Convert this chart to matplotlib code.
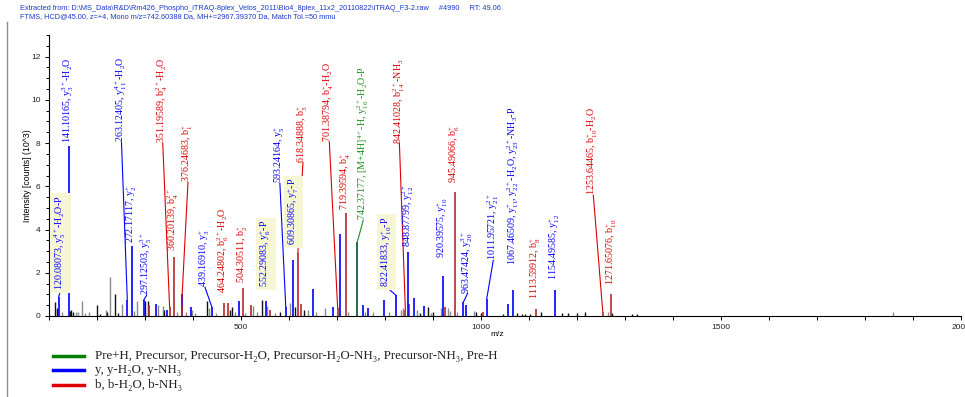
import matplotlib
matplotlib.use("Agg")
import matplotlib.pyplot as plt
from matplotlib.lines import Line2D
from matplotlib.ticker import MultipleLocator

plt.rcParams["mathtext.fontset"] = "custom"
plt.rcParams["mathtext.rm"] = "Liberation Serif"
plt.rcParams["mathtext.it"] = "Liberation Serif"
plt.rcParams["mathtext.default"] = "regular"

# --- matched y ions (blue) ---
y_mz = [120.08073, 141.10165, 263.12405, 272.17117, 297.12503, 439.16910, 552.29083,
        593.24164, 609.30865, 822.41833, 848.87799, 920.39575, 963.47424, 1011.95721,
        1067.46509, 1154.49585]
y_int = [0.88, 7.86, 0.75, 3.25, 0.73, 0.42, 0.68, 0.42, 2.58, 0.96, 2.95, 1.84, 0.65,
         0.80, 1.22, 1.19]
y_labels = [
    "120.08073, y$_5^{4+}$-H$_2$O-P",
    "141.10165, y$_3^{3+}$-H$_2$O",
    "263.12405, y$_{11}^{4+}$-H$_2$O",
    "272.17117, y$_2^{+}$",
    "297.12503, y$_5^{3+}$",
    "439.16910, y$_3^{+}$",
    "552.29083, y$_6^{+}$-P",
    "593.24164, y$_5^{+}$",
    "609.30865, y$_7^{+}$-P",
    "822.41833, y$_{10}^{+}$-P",
    "848.87799, y$_{12}^{2+}$",
    "920.39575, y$_{10}^{+}$",
    "963.47424, y$_{20}^{3+}$",
    "1011.95721, y$_{21}^{2+}$",
    "1067.46509, y$_{11}^{+}$, y$_{22}^{2+}$-H$_2$O, y$_{23}^{2+}$-NH$_3$-P",
    "1154.49585, y$_{12}^{+}$",
]

# --- matched b ions (red) ---
b_mz = [351.19589, 360.20139, 376.24683, 464.24802, 504.30511, 618.34888, 701.38794,
        719.39594, 842.41028, 945.49066, 1113.59912, 1253.64465, 1271.65076]
b_int = [0.42, 2.75, 0.50, 0.60, 1.31, 2.90, 0.35, 4.78, 0.30, 5.74, 0.31, 0.20, 1.00]
b_labels = [
    "351.19589, b$_4^{2+}$-H$_2$O",
    "360.20139, b$_4^{2+}$",
    "376.24683, b$_1^{+}$",
    "464.24802, b$_6^{2+}$-H$_2$O",
    "504.30511, b$_2^{+}$",
    "618.34888, b$_3^{+}$",
    "701.38794, b$_4^{+}$-H$_2$O",
    "719.39594, b$_4^{+}$",
    "842.41028, b$_{14}^{2+}$-NH$_3$",
    "945.49066, b$_6^{+}$",
    "1113.59912, b$_8^{+}$",
    "1253.64465, b$_{10}^{+}$-H$_2$O",
    "1271.65076, b$_{10}^{+}$",
]

# --- precursor (green) ---
pre_mz = [742.37177]
pre_int = [3.43]
pre_labels = ["742.37177, [M+4H]$^{4+}$-H, y$_{16}^{2+}$-H$_2$O-P"]

# ions with a neutral loss of phosphate get a highlighted label
highlighted = [120.08073, 552.29083, 609.30865, 822.41833]

# unlabeled peaks that still matched a series
y_extra_mz = [323, 346, 377.7, 395, 496, 649, 691, 706, 754.7, 764, 798.5, 861, 882, 968.5, 1055.5]
y_extra_int = [0.57, 0.30, 1.00, 0.40, 0.68, 1.27, 0.40, 3.80, 0.50, 0.35, 0.76, 0.85, 0.45, 0.50, 0.57]
b_extra_mz = [308, 472, 520, 560, 626, 850.5, 926, 1004.6]
b_extra_int = [0.50, 0.60, 0.50, 0.30, 0.55, 0.55, 0.40, 0.20]

# unmatched peaks
black_mz = [112.5, 116, 143, 146, 150, 199, 206, 221.5, 237.5, 243, 300, 305.6, 340, 428.5,
            477, 481, 543, 581, 612.5, 631, 873, 890, 900, 990, 1001, 1046, 1076, 1085,
            1092, 1102, 1124, 1168, 1182, 1199, 1216.5, 1273, 1315, 1326]
black_int = [0.65, 0.35, 0.25, 0.30, 0.20, 0.53, 0.10, 0.20, 1.04, 0.15, 0.70, 0.68, 0.30, 0.68,
             0.30, 0.40, 0.74, 0.20, 0.40, 0.30, 0.15, 0.40, 0.20, 0.20, 0.15, 0.10, 0.15, 0.10,
             0.10, 0.10, 0.18, 0.15, 0.15, 0.15, 0.18, 0.15, 0.10, 0.10]
gray_mz = [127.7, 156, 161, 168, 175, 184, 218, 227, 252.7, 277.7, 282.7, 328, 337, 367, 386,
           397, 404, 434, 448, 487.5, 508, 525.5, 532.6, 555, 570, 602, 640, 656, 675, 723.5,
           758, 775.7, 808, 833, 838, 866, 896, 916.7, 931, 936, 950, 985, 1265, 1858]
gray_int = [0.18, 0.20, 0.20, 0.68, 0.15, 0.20, 0.30, 1.80, 0.55, 0.25, 0.68, 0.50, 0.45, 0.20,
            0.20, 0.30, 0.15, 0.35, 0.15, 0.20, 0.15, 0.45, 0.20, 0.45, 0.15, 0.60, 0.30, 0.20,
            0.35, 0.20, 0.20, 0.20, 0.20, 0.30, 0.35, 0.30, 0.15, 0.35, 0.35, 0.25, 0.20, 0.25,
            0.20, 0.18]

# where each label sits (m/z, intensity of its lower end)
label_pos = {
    120.08073: (124, 1.20), 141.10165: (141.1, 8.0), 263.12405: (251, 8.04),
    272.17117: (272.2, 3.37), 297.12503: (303.5, 0.96), 439.16910: (425, 1.33),
    552.29083: (552.3, 1.33), 593.24164: (581, 6.13), 609.30865: (609.3, 3.27),
    822.41833: (803.5, 1.34), 848.87799: (848.9, 3.2), 920.39575: (920.4, 2.67),
    963.47424: (972, 1.04), 1011.95721: (1025.6, 2.58), 1067.46509: (1067.5, 2.35),
    1154.49585: (1154.5, 1.65),
    351.19589: (337, 7.99), 360.20139: (360.2, 3.0), 376.24683: (389.5, 6.18),
    464.24802: (464.2, 1.05), 504.30511: (504.3, 1.51), 618.34888: (629, 7.1),
    701.38794: (684, 8.06), 719.39594: (719.4, 4.89), 842.41028: (830, 7.98),
    945.49066: (945.5, 6.13), 1113.59912: (1113.6, 0.8), 1253.64465: (1234, 5.59),
    1271.65076: (1271.7, 1.42),
    742.37177: (754.7, 4.43),
}

BLUE = "#0000ff"
RED = "#dd0000"
DARKRED = "#b22a2a"
GREEN = "#1f8a1f"

fig = plt.figure(figsize=(9.65, 3.97), dpi=100)
ax = fig.add_axes([49 / 965, 1 - 316 / 397, 912 / 965, 281 / 397])

# --- peaks ---
ax.vlines(gray_mz, 0, gray_int, colors="#8a8a8a", lw=1.0)
ax.vlines(black_mz, 0, black_int, colors="#111111", lw=1.0)
ax.vlines(y_extra_mz, 0, y_extra_int, colors=BLUE, lw=1.2)
ax.vlines(b_extra_mz, 0, b_extra_int, colors=DARKRED, lw=1.2)
ax.vlines(y_mz, 0, y_int, colors=BLUE, lw=1.2)
ax.vlines(b_mz, 0, b_int, colors=DARKRED, lw=1.2)
ax.vlines(pre_mz, 0, pre_int, colors="#1f6a4a", lw=1.4)

# --- labels with leader lines ---
series = [(y_mz, y_int, y_labels, BLUE), (b_mz, b_int, b_labels, RED),
          (pre_mz, pre_int, pre_labels, GREEN)]
for mzs, ints, labels, col in series:
    for mz, inten, lab in zip(mzs, ints, labels):
        lx, ly = label_pos[mz]
        if abs(lx - mz) > 2:
            ax.plot([mz, lx], [inten, ly], color=col, lw=0.8)
        box = None
        if mz in highlighted:
            box = dict(boxstyle="square,pad=0.25", fc="#f7f6d4", ec="none")
        ax.text(lx, ly, lab, rotation=90, ha="center", va="bottom", color=col,
                fontsize=7.2, family="Liberation Serif", bbox=box)

# --- axes formatting ---
ax.set_xlim(100, 2000)
ax.set_ylim(0, 13)
ax.spines["top"].set_visible(False)
ax.spines["right"].set_visible(False)
for s in ("left", "bottom"):
    ax.spines[s].set_linewidth(0.8)
ax.xaxis.set_major_locator(MultipleLocator(500))
ax.xaxis.set_minor_locator(MultipleLocator(100))
ax.yaxis.set_major_locator(MultipleLocator(2))
ax.yaxis.set_minor_locator(MultipleLocator(0.5))
ax.tick_params(which="both", direction="out", width=0.7, labelsize=6,
               labelcolor="#222222", pad=3)
ax.tick_params(which="major", length=3)
ax.tick_params(which="minor", length=2)
ax.tick_params(axis="x", which="both", length=3)
for t in ax.get_xticklabels() + ax.get_yticklabels():
    t.set_family("Liberation Sans")

ax.set_xlabel("m/z", fontsize=6, family="Liberation Sans")
ax.xaxis.set_label_coords(0.491, -0.055)
ax.set_ylabel("Intensity [counts] (10^3)", fontsize=6.3, family="Liberation Sans")
ax.yaxis.set_label_coords(-0.019, 0.5)

# --- header ---
header1 = (r"Extracted from: D:\MS_Data\R&D\Rm426_Phospho_iTRAQ-8plex_Velos_2011"
           r"\Bio4_8plex_11x2_20110822\iTRAQ_F3-2.raw     #4990     RT: 49.06")
header2 = ("FTMS, HCD@45.00, z=+4, Mono m/z=742.60388 Da, MH+=2967.39370 Da, "
           "Match Tol.=50 mmu")
fig.text(20 / 965, 1 - 9 / 397, header1, fontsize=5.3, color="#1a3cc8",
         family="Liberation Sans", va="center")
fig.text(20 / 965, 1 - 17 / 397, header2, fontsize=5.3, color="#1a3cc8",
         family="Liberation Sans", va="center")

# left frame line
fig.add_artist(Line2D([7 / 965, 7 / 965], [0, 1 - 22 / 397], color="#8c8c8c", lw=1.0))

# --- legend ---
legend_rows = [
    ("Pre+H, Precursor, Precursor-H₂O, Precursor-H₂O-NH₃, Precursor-NH₃, Pre-H", "#008000"),
    ("y, y-H₂O, y-NH₃", "#0000ff"),
    ("b, b-H₂O, b-NH₃", "#dd0000"),
]
for i, (txt, col) in enumerate(legend_rows):
    yy = 1 - (356 + 14.3 * i) / 397
    fig.add_artist(Line2D([53 / 965, 84 / 965], [yy, yy], color=col, lw=2.5))
    fig.text(95 / 965, yy, txt, fontsize=9.3, family=["Liberation Serif", "DejaVu Serif"],
             va="center", color="#222222")

fig.savefig("out.png", dpi=100)
